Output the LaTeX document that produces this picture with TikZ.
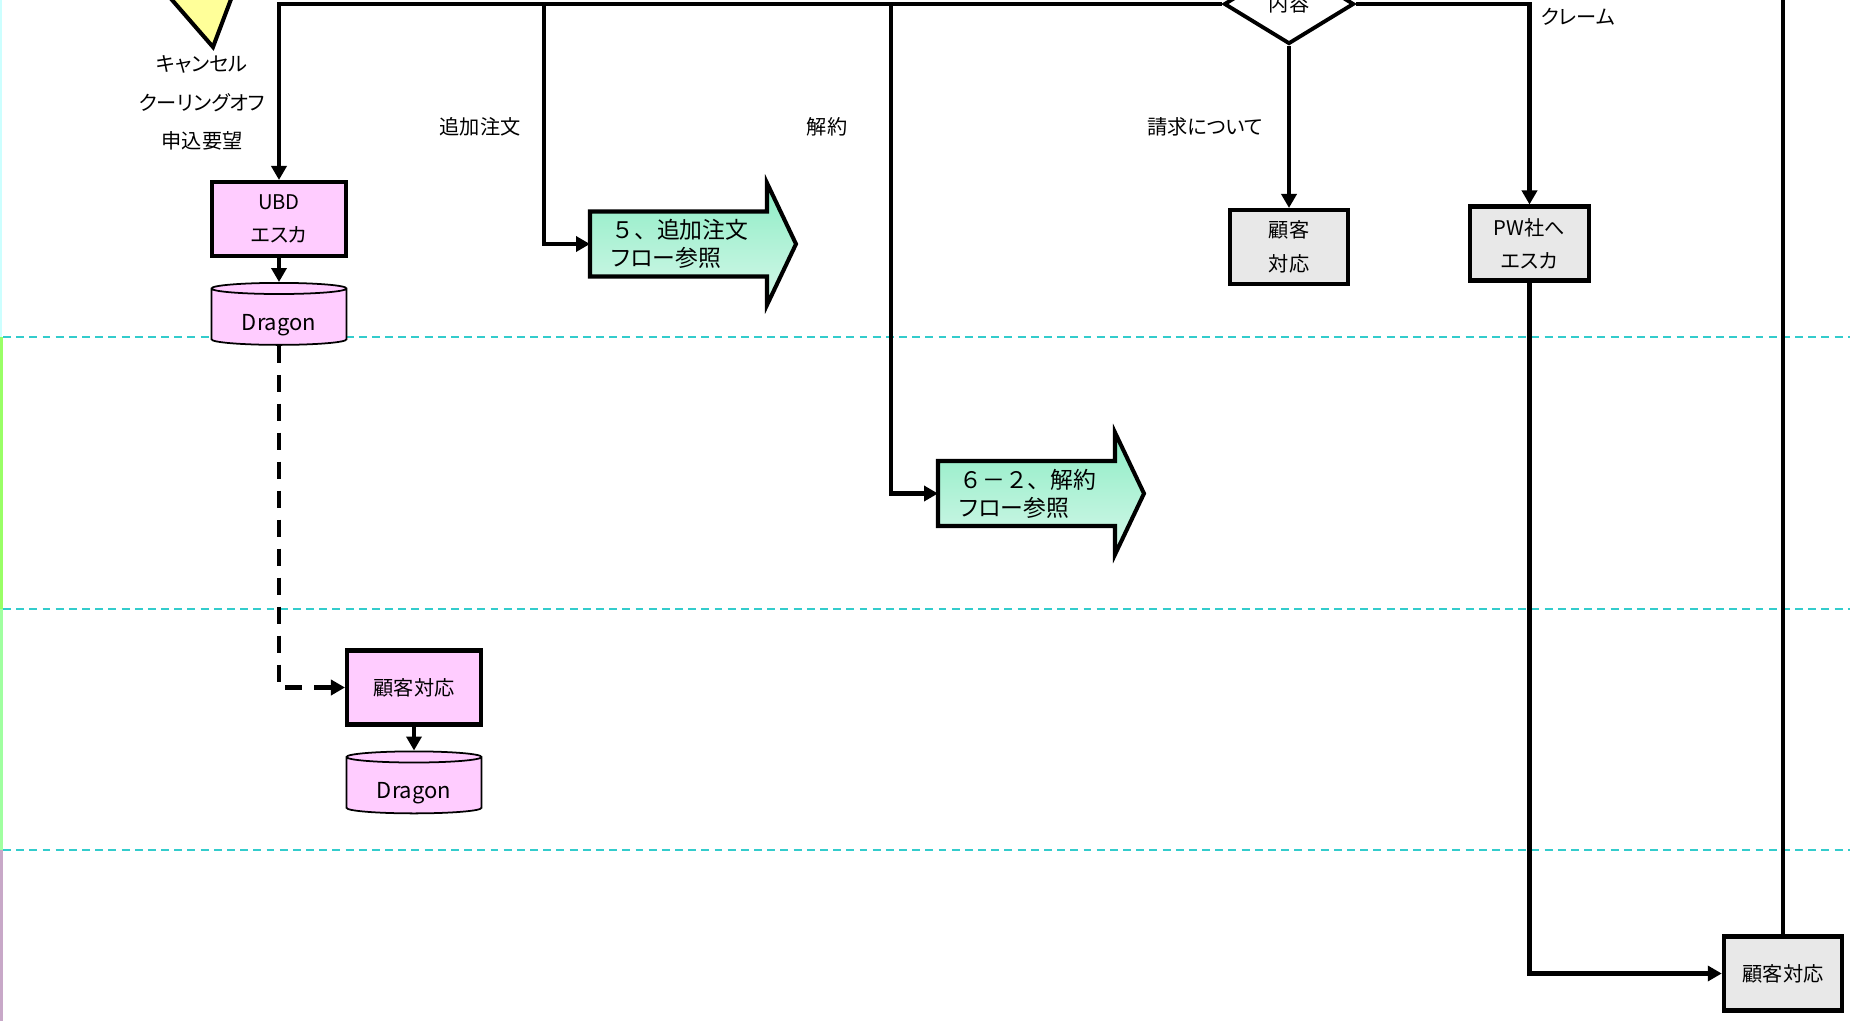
\documentclass[tikz,border=0pt]{standalone}
\usepackage{fontspec}
\setmainfont{Noto Sans CJK JP}[RawFeature={+palt}]
\newfontfamily\jpwide{Noto Sans CJK JP}
\usetikzlibrary{shapes.geometric,arrows.meta,positioning}

\definecolor{lanecyan}{RGB}{51,204,204}
\definecolor{ubdpink}{RGB}{255,204,255}
\definecolor{boxgray}{RGB}{232,232,232}
\definecolor{tripale}{RGB}{255,255,153}
\definecolor{mintdark}{RGB}{140,236,196}
\definecolor{mintlight}{RGB}{214,248,234}
\definecolor{stripcyan}{RGB}{204,255,255}
\definecolor{stripgreen}{RGB}{153,255,102}
\definecolor{strippale}{RGB}{160,255,160}
\definecolor{stripmauve}{RGB}{200,168,200}

\begin{document}
\begin{tikzpicture}[x=0.02cm,y=-0.02cm,
  font=\fontsize{11.5pt}{19pt}\selectfont,
  proc/.style={rectangle,draw,line width=2.3pt,align=center,inner sep=0pt,minimum width=2.68cm,minimum height=1.48cm},
  pinkbox/.style={proc,fill=ubdpink},
  graybox/.style={proc,fill=boxgray,minimum width=2.37cm},
  dbase/.style={cylinder,shape border rotate=90,aspect=0.15,draw,line width=1pt,fill=ubdpink,minimum width=2.7cm,minimum height=1.24cm,inner sep=0pt,text height=0.62cm,text depth=0.1cm,font=\fontsize{12.5pt}{15pt}\selectfont},
  decide/.style={diamond,draw,line width=2.2pt,fill=white,minimum width=2.6cm,minimum height=1.6cm,inner sep=0pt},
  refarrow/.style={line width=2.3pt,top color=mintdark,bottom color=mintlight,line join=miter},
  reftext/.style={anchor=west,align=left,text width=2.68cm,inner xsep=0.42cm,inner ysep=0pt,minimum height=1.3cm,font=\fontsize{13pt}{16pt}\selectfont},
  lane/.style={lanecyan,line width=1.3pt,dash pattern=on 4.5pt off 3pt},
  conn/.style={line width=2.4pt},
  arr/.style={conn,-{Triangle[length=0.28cm,width=0.3cm]}},
  dconn/.style={arr,dash pattern=on 0.34cm off 0.24cm}]
 % frame
 \useasboundingbox (0,0) rectangle (1850,1021);
 \clip (0,0) rectangle (1850,1021);

 % lane heads
 \fill[stripcyan] (0,0) rectangle (2.5,337);
 \fill[stripgreen] (0,337) rectangle (3,609);
 \fill[strippale] (0,609) rectangle (3,850);
 \fill[stripmauve] (0,850) rectangle (3,1021);
 \foreach \y in {337,609,850} {
  \draw[lane] (3,\y) -- (1850,\y);
 }

 % start marker
 \filldraw[fill=tripale,line width=2.3pt,line join=miter] (146,-30) -- (242,-30) -- (213,47) -- cycle;

 % boxes
 \node (ubd) [pinkbox] at (279,219) {UBD\\エスカ};
 \node (drg1) [dbase,below=0.48cm of ubd] {Dragon};
 \node (care1) [pinkbox] at (414,687.5) {顧客対応};
 \node (drg2) [dbase,below=0.48cm of care1] {Dragon};
 \node (cont) [decide] at (1289,4) {内容};
 \node (care2) [graybox] at (1289,247) {顧客\\対応};
 \node (pwesc) [graybox,minimum width=2.39cm] at (1529.5,243.5) {PW社へ\\エスカ};
 \node (care3) [graybox] at (1783,973.5) {顧客対応};

 % flow references
 \foreach \x/\y in {590/244,938/493.5} {
  \shadedraw[refarrow] (\x,\y) ++(0,32.5) -- ++(0,-65) -- ++(177,0) -- ++(0,-28.5) -- ++(29,61) -- ++(-29,61) -- ++(0,-28.5) -- cycle;
 }
 \node (ref5) [reftext] at (590,244) {{\jpwide ５、追加注文}\\フロー参照};
 \node (ref62) [reftext] at (938,493.5) {{\jpwide ６－２、解約}\\フロー参照};

 % labels
 \node (lcan) [align=center,font=\fontsize{11.5pt}{21.8pt}\selectfont] at (202,103) {キャンセル\\クーリングオフ\\申込要望};
 \node (ladd) at (480,127) {追加注文};
 \node (lend) at (827,127) {解約};
 \node (lbill) at (1205,127) {請求について};
 \node (lclaim) at (1578,17) {クレーム};

 % branch points
 \coordinate (br5) at (544,4);
 \coordinate (br62) at (891,4);
 \coordinate (topedge) at (0,-10);

 % connectors
 \draw[arr] (cont.west) -| (ubd.north);
 \draw[arr] (br5) |- (ref5.west);
 \draw[arr] (br62) |- (ref62.west);
 \draw[arr] (ubd.south) -- (drg1.north);
 \draw[dconn] (drg1.south) |- (care1.west);
 \draw[arr] (care1.south) -- (drg2.north);
 \draw[arr] (cont.south) -- (care2.north);
 \draw[arr] (cont.east) -| (pwesc.north);
 \draw[arr] (pwesc.south) |- (care3.west);
 \draw[conn] (care3.north) -- (care3.north |- topedge);
\end{tikzpicture}
\end{document}
